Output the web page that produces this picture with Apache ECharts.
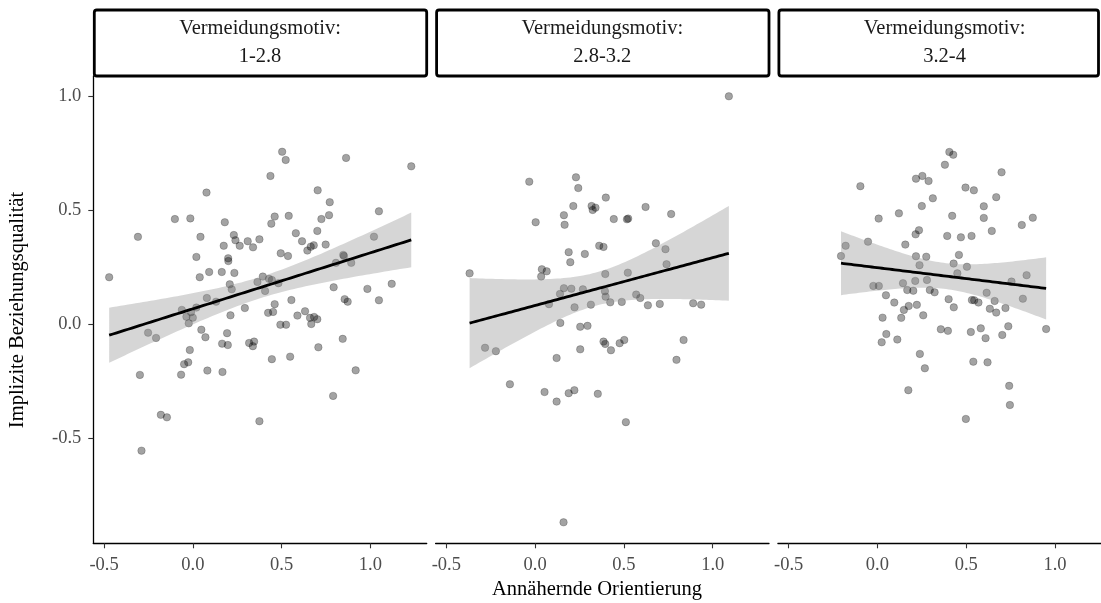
<!DOCTYPE html>
<html>
<head>
<meta charset="utf-8">
<script src="https://cdn.jsdelivr.net/npm/echarts@6/dist/echarts.min.js"></script>
<style>
  html, body { margin: 0; padding: 0; background: #fff; }
  #chart { width: 1101px; height: 603px; }
</style>
</head>
<body>
<div id="chart"></div>
<script>
// Facet labels (avoidance motive groups) and shared tick values
const facetTitle = 'Vermeidungsmotiv:';
const facetLabels = ['1-2.8', '2.8-3.2', '3.2-4'];
const tickValues = [-0.5, 0.0, 0.5, 1.0];
const xTitle = 'Annähernde Orientierung';
const yTitle = 'Implizite Beziehungsqualität';

// Panel 1: Vermeidungsmotiv 1-2.8
const p1X = [0.503, 0.523, 0.863, 1.230, 0.437, 0.077, 0.703, 0.771, 1.048, -0.101,
  -0.014, 0.180, 0.461, 0.540, 0.442, 0.724, 0.767, -0.309, 0.043, 0.231,
  0.240, 0.264, 0.174, 0.309, 0.339, 0.375, 0.580, 0.615, 0.701, 0.681,
  0.664, 0.645, 0.748, 1.020, 0.020, 0.199, 0.200, 0.495, 0.536, 0.847,
  0.851, 0.806, 0.892, -0.471, 0.039, 0.092, 0.163, 0.234, 0.394, 0.429,
  0.445, 0.208, 0.219, 0.364, 0.407, 0.482, 0.793, 0.983, 1.120, 1.048,
  0.855, 0.872, 0.555, 0.461, 0.079, 0.131, -0.062, -0.010, -0.036, 0.000,
  0.020, -0.023, 0.293, 0.212, 0.424, 0.452, 0.632, 0.589, 0.660, 0.683,
  0.701, 0.667, 0.493, 0.525, -0.252, -0.207, 0.048, 0.071, 0.193, 0.165,
  0.197, 0.317, 0.345, 0.338, 0.844, 0.707, -0.017, -0.049, -0.026, 0.445,
  0.548, -0.298, -0.066, 0.082, 0.167, 0.917, 0.790, -0.180, -0.146, 0.375,
  -0.289];
const p1Y = [0.756, 0.720, 0.729, 0.692, 0.650, 0.577, 0.587, 0.535, 0.495, 0.461,
  0.464, 0.447, 0.472, 0.475, 0.441, 0.461, 0.478, 0.383, 0.383, 0.391,
  0.368, 0.344, 0.344, 0.364, 0.337, 0.372, 0.399, 0.364, 0.409, 0.346,
  0.340, 0.323, 0.349, 0.384, 0.295, 0.289, 0.277, 0.311, 0.299, 0.304,
  0.299, 0.269, 0.269, 0.206, 0.206, 0.229, 0.229, 0.225, 0.209, 0.199,
  0.194, 0.175, 0.153, 0.185, 0.146, 0.180, 0.162, 0.155, 0.177, 0.105,
  0.110, 0.099, 0.106, 0.088, 0.115, 0.099, 0.063, 0.053, 0.033, 0.029,
  0.073, 0.004, 0.071, 0.039, 0.050, 0.054, 0.057, 0.038, 0.028, 0.032,
  0.022, 0.001, -0.002, -0.002, -0.037, -0.060, -0.024, -0.057, -0.039, -0.085,
  -0.091, -0.082, -0.076, -0.096, -0.064, -0.101, -0.113, -0.175, -0.167, -0.153,
  -0.142, -0.222, -0.221, -0.203, -0.209, -0.202, -0.314, -0.397, -0.408, -0.425,
  -0.554];

// Panel 2: Vermeidungsmotiv 2.8-3.2
const p2X = [1.091, -0.033, 0.230, 0.243, 0.398, 0.003, 0.162, 0.166, 0.215, 0.318,
  0.340, 0.324, 0.443, 0.517, 0.524, 0.622, 0.766, 0.189, 0.280, 0.198,
  0.361, 0.385, 0.680, 0.734, 0.740, -0.369, 0.038, 0.065, 0.034, 0.395,
  0.522, 0.162, 0.204, 0.269, 0.140, 0.078, 0.222, 0.314, 0.393, 0.397,
  0.423, 0.488, 0.569, 0.592, 0.635, 0.702, 0.890, 0.935, 0.142, 0.254,
  0.295, -0.282, -0.221, 0.121, 0.254, 0.385, 0.395, 0.427, 0.476, 0.502,
  0.836, 0.796, -0.142, 0.053, 0.121, 0.189, 0.221, 0.353, 0.511, 0.160];
const p2Y = [0.999, 0.625, 0.644, 0.597, 0.555, 0.447, 0.478, 0.436, 0.518, 0.518,
  0.511, 0.501, 0.461, 0.460, 0.463, 0.514, 0.483, 0.316, 0.308, 0.272,
  0.344, 0.339, 0.355, 0.329, 0.263, 0.223, 0.241, 0.232, 0.209, 0.220,
  0.226, 0.158, 0.156, 0.153, 0.133, 0.088, 0.074, 0.086, 0.145, 0.121,
  0.096, 0.098, 0.130, 0.115, 0.083, 0.089, 0.092, 0.086, 0.006, -0.011,
  -0.007, -0.103, -0.118, -0.148, -0.110, -0.076, -0.086, -0.114, -0.083, -0.069,
  -0.069, -0.156, -0.263, -0.297, -0.339, -0.302, -0.289, -0.305, -0.429, -0.868];

// Panel 3: Vermeidungsmotiv 3.2-4
const p3X = [0.405, 0.427, 0.380, 0.699, -0.096, 0.217, 0.253, 0.288, 0.496, 0.543,
  0.312, 0.250, 0.669, 0.599, 0.007, 0.121, 0.421, 0.599, 0.875, 0.813,
  0.234, 0.215, 0.393, 0.470, 0.530, 0.644, -0.179, -0.053, 0.157, -0.205,
  0.217, 0.275, 0.459, 0.237, 0.429, 0.504, 0.450, 0.840, 0.755, -0.023,
  0.008, 0.144, 0.213, 0.279, 0.168, 0.202, 0.295, 0.322, 0.048, 0.095,
  0.176, 0.149, 0.222, 0.401, 0.430, 0.532, 0.545, 0.569, 0.615, 0.660,
  0.819, 0.633, 0.669, 0.721, 0.258, 0.029, 0.134, 0.357, 0.397, 0.526,
  0.582, 0.609, 0.703, 0.737, 0.950, 0.050, 0.024, 0.112, 0.239, 0.267,
  0.540, 0.620, 0.174, 0.742, 0.746, 0.498];
const p3Y = [0.755, 0.743, 0.699, 0.666, 0.605, 0.638, 0.650, 0.628, 0.599, 0.587,
  0.552, 0.518, 0.557, 0.517, 0.463, 0.486, 0.475, 0.466, 0.467, 0.435,
  0.412, 0.394, 0.387, 0.381, 0.387, 0.409, 0.344, 0.362, 0.349, 0.299,
  0.298, 0.296, 0.304, 0.259, 0.266, 0.252, 0.223, 0.215, 0.187, 0.168,
  0.168, 0.180, 0.190, 0.194, 0.150, 0.147, 0.150, 0.140, 0.127, 0.095,
  0.080, 0.063, 0.085, 0.110, 0.074, 0.106, 0.105, 0.095, 0.138, 0.102,
  0.112, 0.068, 0.051, 0.071, 0.039, 0.029, 0.028, -0.022, -0.029, -0.034,
  -0.018, -0.061, -0.047, -0.009, -0.021, -0.043, -0.079, -0.067, -0.130, -0.193,
  -0.164, -0.167, -0.289, -0.270, -0.354, -0.415];

const panels = [[p1X, p1Y], [p2X, p2Y], [p3X, p3Y]];

// Linear model fit with 95% confidence band, evaluated across each panel's x range
function lmFit(xs, ys, steps) {
  const n = xs.length;
  const mx = xs.reduce((a, b) => a + b, 0) / n;
  const my = ys.reduce((a, b) => a + b, 0) / n;
  let sxx = 0, sxy = 0;
  for (let i = 0; i < n; i++) {
    sxx += (xs[i] - mx) * (xs[i] - mx);
    sxy += (xs[i] - mx) * (ys[i] - my);
  }
  const b = sxy / sxx;
  const a = my - b * mx;
  let rss = 0;
  for (let i = 0; i < n; i++) {
    const r = ys[i] - (a + b * xs[i]);
    rss += r * r;
  }
  const df = n - 2;
  const s = Math.sqrt(rss / df);
  const z = 1.959964;
  const t = z + (z * z * z + z) / (4 * df) +
    (5 * Math.pow(z, 5) + 16 * z * z * z + 3 * z) / (96 * df * df);
  const x0 = Math.min(...xs), x1 = Math.max(...xs);
  const line = [], upper = [], lower = [];
  for (let k = 0; k <= steps; k++) {
    const x = x0 + (x1 - x0) * k / steps;
    const yhat = a + b * x;
    const se = s * Math.sqrt(1 / n + (x - mx) * (x - mx) / sxx);
    line.push([x, yhat]);
    upper.push([x, yhat + t * se]);
    lower.push([x, yhat - t * se]);
  }
  return { line, upper, lower };
}

const FONT = '"Liberation Serif", "Times New Roman", "DejaVu Serif", serif';
const X_MIN = -0.5604, X_MAX = 1.317;
const Y_MIN = -0.960, Y_MAX = 1.088;
const PANEL_LEFT = 93.3, PANEL_W = 333.4, PANEL_STEP = 342.3;
const PANEL_TOP = 76, PANEL_H = 467.3;
const TEXT_SIZE = 20.5, TICK_SIZE = 18.5;

const grids = [], xAxes = [], yAxes = [], series = [], graphics = [];

panels.forEach(([xs, ys], i) => {
  const left = PANEL_LEFT + i * PANEL_STEP;
  // the third panel runs past the right edge of the canvas
  grids.push({ left: left, top: PANEL_TOP, width: PANEL_W, height: PANEL_H,
    containLabel: false, outerBoundsMode: 'none' });
  xAxes.push({
    type: 'value', gridIndex: i, min: X_MIN, max: X_MAX,
    axisLine: { show: true, onZero: false, lineStyle: { color: '#000', width: 1.3 } },
    axisTick: { show: true, length: 5, customValues: tickValues, lineStyle: { color: '#333', width: 1.1 } },
    axisLabel: { show: true, customValues: tickValues, margin: 12, color: '#4d4d4d',
      fontFamily: FONT, fontSize: TICK_SIZE, formatter: v => v.toFixed(1) },
    splitLine: { show: false }
  });
  yAxes.push({
    type: 'value', gridIndex: i, min: Y_MIN, max: Y_MAX,
    axisLine: { show: i === 0, onZero: false, lineStyle: { color: '#000', width: 1.3 } },
    axisTick: { show: i === 0, length: 5, customValues: tickValues, lineStyle: { color: '#333', width: 1.1 } },
    axisLabel: { show: i === 0, customValues: tickValues, margin: 12, color: '#4d4d4d',
      fontFamily: FONT, fontSize: TICK_SIZE, formatter: v => v.toFixed(1) },
    splitLine: { show: false }
  });

  const pts = xs.map((x, k) => [x, ys[k]]);
  series.push({
    type: 'scatter', xAxisIndex: i, yAxisIndex: i, data: pts,
    symbolSize: 7.5, z: 2, silent: true,
    itemStyle: { color: 'rgba(0,0,0,0.45)', borderColor: 'rgba(0,0,0,0.32)', borderWidth: 0.8 }
  });

  const fit = lmFit(xs, ys, 80);
  series.push({
    type: 'custom', xAxisIndex: i, yAxisIndex: i, z: 3, silent: true, clip: true,
    data: [fit.line[0]],
    renderItem: (params, api) => {
      const poly = fit.upper.map(p => api.coord(p))
        .concat(fit.lower.slice().reverse().map(p => api.coord(p)));
      return { type: 'polygon', shape: { points: poly },
        style: { fill: 'rgba(153,153,153,0.4)', stroke: null } };
    }
  });
  series.push({
    type: 'line', xAxisIndex: i, yAxisIndex: i, data: fit.line, z: 4,
    showSymbol: false, silent: true,
    lineStyle: { color: '#000', width: 2.8 }
  });

  // Facet strip
  const stripRight = Math.min(left + PANEL_W, 1098.5);
  graphics.push({
    type: 'rect', z: 10,
    shape: { x: left + 1, y: 10, width: stripRight - left - 1, height: PANEL_TOP - 10, r: 2.5 },
    style: { fill: '#fff', stroke: '#000', lineWidth: 2.8 }
  });
  const cx = left + PANEL_W / 2;
  graphics.push({
    type: 'text', z: 11, x: cx, y: 29,
    style: { text: facetTitle, fill: '#1a1a1a', font: TEXT_SIZE + 'px ' + FONT, align: 'center', verticalAlign: 'middle' }
  });
  graphics.push({
    type: 'text', z: 11, x: cx, y: 57,
    style: { text: facetLabels[i], fill: '#1a1a1a', font: TEXT_SIZE + 'px ' + FONT, align: 'center', verticalAlign: 'middle' }
  });
});

// Axis titles
graphics.push({
  type: 'text', x: 597, y: 590,
  style: { text: xTitle, fill: '#000', font: TEXT_SIZE + 'px ' + FONT, align: 'center', verticalAlign: 'middle' }
});
graphics.push({
  type: 'text', x: 18, y: 310, rotation: Math.PI / 2,
  style: { text: yTitle, fill: '#000', font: TEXT_SIZE + 'px ' + FONT, align: 'center', verticalAlign: 'middle' }
});

const chart = echarts.init(document.getElementById('chart'), null, { renderer: 'canvas' });
chart.setOption({
  animation: false,
  backgroundColor: '#fff',
  grid: grids,
  xAxis: xAxes,
  yAxis: yAxes,
  series: series,
  graphic: graphics
});
</script>
</body>
</html>
